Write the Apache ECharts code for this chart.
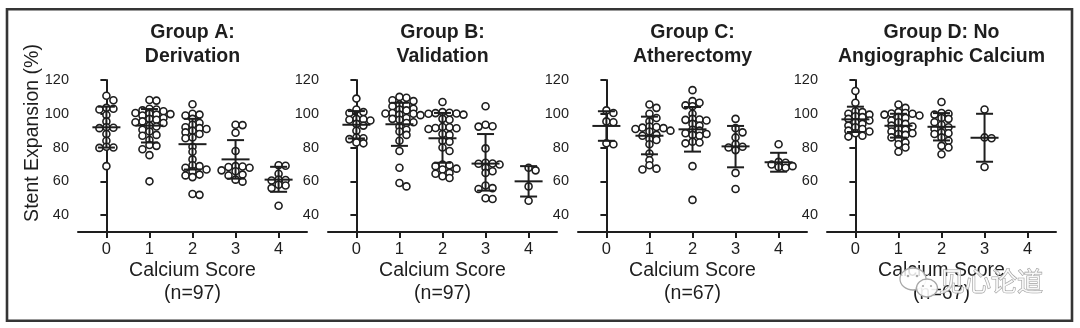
<!DOCTYPE html>
<html>
<head>
<meta charset="utf-8">
<script src="https://cdn.jsdelivr.net/npm/echarts@6/dist/echarts.min.js"></script>
<style>
  html, body { margin: 0; padding: 0; background: #fff; }
  #chart { width: 1080px; height: 328px; }
</style>
</head>
<body>
<div id="chart"></div>
<script>
// Calcium score categories and axis ticks
const categories = [0, 1, 2, 3, 4];
const yTicks = [40, 60, 80, 100, 120];

// Panel titles and cohort sizes
const panelTitles = [
  ['Group A:', 'Derivation'],
  ['Group B:', 'Validation'],
  ['Group C:', 'Atherectomy'],
  ['Group D: No', 'Angiographic Calcium']
];
const cohortSizes = ['(n=97)', '(n=97)', '(n=67)', '(n=67)'];

// Stent expansion (%) per lesion, one list per calcium score
const groupA = [
  [110.7, 108, 103.5, 103, 102.5, 99.3, 95.5, 92, 91.7, 91.5, 88, 84, 80.5, 80, 79.8, 69],
  [108.2, 107.8, 103, 102.5, 102, 101.5, 100.5, 100, 99.8, 99.5, 99, 97.5, 97, 96.5, 95.5, 95, 94.5, 93, 92.5, 90.5, 89.5, 87.5, 87, 84.5, 81.5, 81, 79, 75.5, 60],
  [105.6, 100, 99.5, 99, 97, 94.5, 93.5, 92, 91.5, 91, 90, 89, 88, 86, 85.5, 80.5, 77.5, 73, 69.5, 69, 68, 67, 66, 64, 63.5, 62.5, 52.5, 52],
  [93.5, 93.3, 88.8, 78, 69, 68.8, 68.5, 68, 66.5, 66, 64, 63.5, 61, 59.8],
  [69.5, 69.2, 64.5, 61, 60.8, 60.5, 58, 57.5, 56, 45.5]
];
const groupB = [
  [109, 102.5, 101, 100.5, 97, 96.8, 96.5, 96, 94, 93, 90, 86, 85.5, 85, 83, 82.5],
  [110, 109.5, 108, 107.5, 105.5, 105, 104.5, 103, 102.5, 102, 100.5, 100.2, 100, 99.5, 99.2, 97.5, 97, 96.5, 95, 94.5, 92.5, 90.5, 89.5, 87.5, 84, 78, 68, 59, 57],
  [107, 101, 100.6, 100.4, 100.2, 100, 99.5, 97, 96.5, 92.2, 92, 91.6, 91.4, 91, 88, 87.5, 84, 83.5, 80, 78, 70, 69.5, 69, 67.5, 67, 65, 64.5, 63, 62],
  [104.5, 93.5, 92.6, 92.4, 79.5, 71, 70.6, 70.4, 70, 68, 66, 65, 57.5, 56, 55.5, 50, 49.5],
  [68, 66.5, 57, 48.5]
];
const groupC = [
  [102, 100.5, 95.5, 95, 82.5, 82],
  [105.5, 103.5, 100, 97.5, 95.5, 92.5, 92.2, 91.8, 91.5, 91, 90, 89.5, 87.5, 87, 85, 84.5, 82, 76.5, 72.5, 69.5, 67.5, 67],
  [114, 107.5, 106.5, 105, 104.5, 100, 97, 96.6, 96.4, 96, 94, 93, 90.5, 90, 88.5, 88, 87.5, 87, 83.5, 83, 82.5, 69, 49],
  [97, 91.5, 89, 86, 82, 80.5, 80, 78.5, 65, 55.5],
  [82, 71.5, 71, 70, 69, 68.5, 68]
];
const groupD = [
  [113.5, 106.5, 101.5, 101, 100, 99.5, 98.5, 98, 97, 96, 95, 94, 93, 92, 91, 90, 89.5, 88.5, 87, 86.5],
  [105.5, 103.5, 101, 100.5, 100.2, 100, 99.5, 99, 98, 97.5, 96, 95, 94, 93, 92.5, 91, 90.5, 89.5, 88.5, 88, 87.5, 86, 85, 83, 82, 80, 77.5],
  [107, 100.5, 100, 99.5, 97.5, 97, 95, 93.5, 92, 91, 89, 88.5, 88, 86, 84, 81, 80, 76],
  [102.5, 86, 85.5, 68.5],
  []
];

// Mean and mean ± SD per calcium score
const meanA = [92, 93, 82, 73, 61];
const lowA  = [80, 83, 67, 61.6, 53.8];
const highA = [104.2, 102.8, 97, 84.4, 68.6];
const meanB = [93.5, 93.8, 85.5, 70.5, 60];
const lowB  = [85.4, 81, 71, 54.5, 51];
const highB = [101.6, 106.5, 100.5, 88, 69];
const meanC = [92.8, 87, 90.8, 80.7, 71.3];
const lowC  = [84, 76, 77.6, 68.3, 65.7];
const highC = [101.5, 98.3, 104, 92.8, 76.9];
const meanD = [96.7, 92.9, 92.3, 85.8, null];
const lowD  = [89.2, 85.9, 84.2, 71.6, null];
const highD = [104.2, 100, 100.4, 100, null];

const groups = [groupA, groupB, groupC, groupD];
const means = [meanA, meanB, meanC, meanD];
const lows = [lowA, lowB, lowC, lowD];
const highs = [highA, highB, highC, highD];

// ---- layout ----
const FONT = '"Liberation Sans", Arial, Helvetica, sans-serif';
const INK = '#1e1e1e';
const GRID_LEFT = [78, 328, 578, 827];
const GRID_W = 229, GRID_TOP = 80, GRID_H = 152;
const X_MIN = -0.66, X_MAX = 4.66, Y_MIN = 30, Y_MAX = 120;
const PX_X = GRID_W / (X_MAX - X_MIN);   // pixels per category unit
const PX_Y = GRID_H / (Y_MAX - Y_MIN);   // pixels per percent
const DOT = 7;
const ROW_H = 5, COL_W = 7;              // points closer than this in both directions are pushed apart
const CAP_HALF = 8.5, MEAN_HALF = 14;

// Column scatter: points sharing a row band are spread sideways around the category
function swarm(values, cat) {
  const placed = [];
  const sorted = values.slice().sort((a, b) => b - a);
  return sorted.map(v => {
    const py = v * PX_Y;
    let off = 0;
    for (let k = 0; k < 400; k++) {
      const cand = k === 0 ? 0 : (k % 2 ? 1 : -1) * Math.ceil(k / 2) * 0.5;
      const clash = placed.some(p => Math.abs(p[1] - py) < ROW_H && Math.abs(p[0] - cand) < COL_W);
      if (!clash) { off = cand; break; }
    }
    placed.push([off, py]);
    return [cat + off / PX_X, v];
  });
}

function errorBarItem(params, api) {
  const x = api.value(0);
  const pm = api.coord([x, api.value(1)]);
  const pl = api.coord([x, api.value(2)]);
  const ph = api.coord([x, api.value(3)]);
  const style = { stroke: INK, lineWidth: 2 };
  return {
    type: 'group',
    children: [
      { type: 'line', shape: { x1: pm[0], y1: ph[1], x2: pm[0], y2: pl[1] }, style },
      { type: 'line', shape: { x1: pm[0] - CAP_HALF, y1: ph[1], x2: pm[0] + CAP_HALF, y2: ph[1] }, style },
      { type: 'line', shape: { x1: pm[0] - CAP_HALF, y1: pl[1], x2: pm[0] + CAP_HALF, y2: pl[1] }, style },
      { type: 'line', shape: { x1: pm[0] - MEAN_HALF, y1: pm[1], x2: pm[0] + MEAN_HALF, y2: pm[1] }, style }
    ]
  };
}

const grid = [], xAxis = [], yAxis = [], series = [], graphic = [];

groups.forEach((grp, i) => {
  grid.push({ left: GRID_LEFT[i], top: GRID_TOP, width: GRID_W, height: GRID_H });
  xAxis.push({
    gridIndex: i, type: 'value', min: X_MIN, max: X_MAX,
    axisLine: { show: true, lineStyle: { color: INK, width: 2 } },
    axisTick: { show: true, customValues: categories, length: 6, lineStyle: { color: INK, width: 2 } },
    axisLabel: { customValues: categories, fontSize: 16.5, color: INK, margin: 9, fontFamily: FONT },
    splitLine: { show: false }
  });
  yAxis.push({
    gridIndex: i, type: 'value', min: Y_MIN, max: Y_MAX,
    axisLine: { show: true, lineStyle: { color: INK, width: 2 } },
    axisTick: { show: true, customValues: yTicks, length: 6, lineStyle: { color: INK, width: 2 } },
    axisLabel: { customValues: yTicks, fontSize: 14.5, color: INK, margin: 9, fontFamily: FONT },
    splitLine: { show: false }
  });

  const pts = [];
  grp.forEach((vals, c) => { swarm(vals, categories[c]).forEach(p => pts.push(p)); });
  series.push({
    type: 'scatter', xAxisIndex: i, yAxisIndex: i, data: pts,
    symbol: 'circle', symbolSize: DOT, z: 2,
    itemStyle: { color: '#ffffff', borderColor: INK, borderWidth: 1.6, opacity: 1 },
    emphasis: { disabled: true }
  });

  const bars = [];
  categories.forEach((c, k) => {
    if (means[i][k] != null) bars.push([c, means[i][k], lows[i][k], highs[i][k]]);
  });
  series.push({
    type: 'custom', xAxisIndex: i, yAxisIndex: i, data: bars, z: 3,
    encode: { x: 0, y: [1, 2, 3] }, renderItem: errorBarItem, silent: true
  });

  const cx = GRID_LEFT[i] + GRID_W / 2;
  graphic.push({ type: 'text', x: cx, y: 33, style: { text: panelTitles[i][0], font: 'bold 19.5px ' + FONT, fill: INK, textAlign: 'center', textVerticalAlign: 'middle' } });
  graphic.push({ type: 'text', x: cx, y: 57, style: { text: panelTitles[i][1], font: 'bold 19.5px ' + FONT, fill: INK, textAlign: 'center', textVerticalAlign: 'middle' } });
  graphic.push({ type: 'text', x: cx, y: 271, style: { text: 'Calcium Score', font: '19.5px ' + FONT, fill: INK, textAlign: 'center', textVerticalAlign: 'middle' } });
  graphic.push({ type: 'text', x: cx, y: 294, style: { text: cohortSizes[i], font: '19.5px ' + FONT, fill: INK, textAlign: 'center', textVerticalAlign: 'middle' } });
});

// y-axis title on the first panel
graphic.push({ type: 'text', x: 33, y: 133, rotation: Math.PI / 2, style: { text: 'Stent Expansion (%)', font: '19.5px ' + FONT, fill: INK, textAlign: 'center', textVerticalAlign: 'middle' } });

// figure frame
graphic.push({ type: 'rect', shape: { x: 7, y: 9.3, width: 1065, height: 311.5 }, style: { fill: 'none', stroke: '#353535', lineWidth: 2.6 }, z: 10 });

// account watermark (bubble icon + name)
graphic.push({
  type: 'group', z: 20, children: [
    { type: 'ellipse', shape: { cx: 913, cy: 279, rx: 13, ry: 11 }, style: { fill: 'rgba(255,255,255,0.85)', stroke: '#a8a8a8', lineWidth: 1.3 } },
    { type: 'ellipse', shape: { cx: 927, cy: 288, rx: 10.5, ry: 9 }, style: { fill: 'rgba(255,255,255,0.9)', stroke: '#a8a8a8', lineWidth: 1.3 } },
    { type: 'circle', shape: { cx: 908, cy: 276, r: 1.3 }, style: { fill: '#a8a8a8' } },
    { type: 'circle', shape: { cx: 917, cy: 276, r: 1.3 }, style: { fill: '#a8a8a8' } },
    { type: 'circle', shape: { cx: 923, cy: 286, r: 1.1 }, style: { fill: '#a8a8a8' } },
    { type: 'circle', shape: { cx: 931, cy: 286, r: 1.1 }, style: { fill: '#a8a8a8' } },
    { type: 'text', x: 991, y: 281, style: { text: '见心论道', font: '26px "Noto Sans CJK SC"', fill: 'rgba(255,255,255,0.8)', stroke: '#9c9c9c', lineWidth: 1.1, textAlign: 'center', textVerticalAlign: 'middle' } }
  ]
});

const chart = echarts.init(document.getElementById('chart'), null, { renderer: 'canvas' });
chart.setOption({
  backgroundColor: '#ffffff',
  animation: false,
  grid, xAxis, yAxis, series, graphic
});
</script>
</body>
</html>
